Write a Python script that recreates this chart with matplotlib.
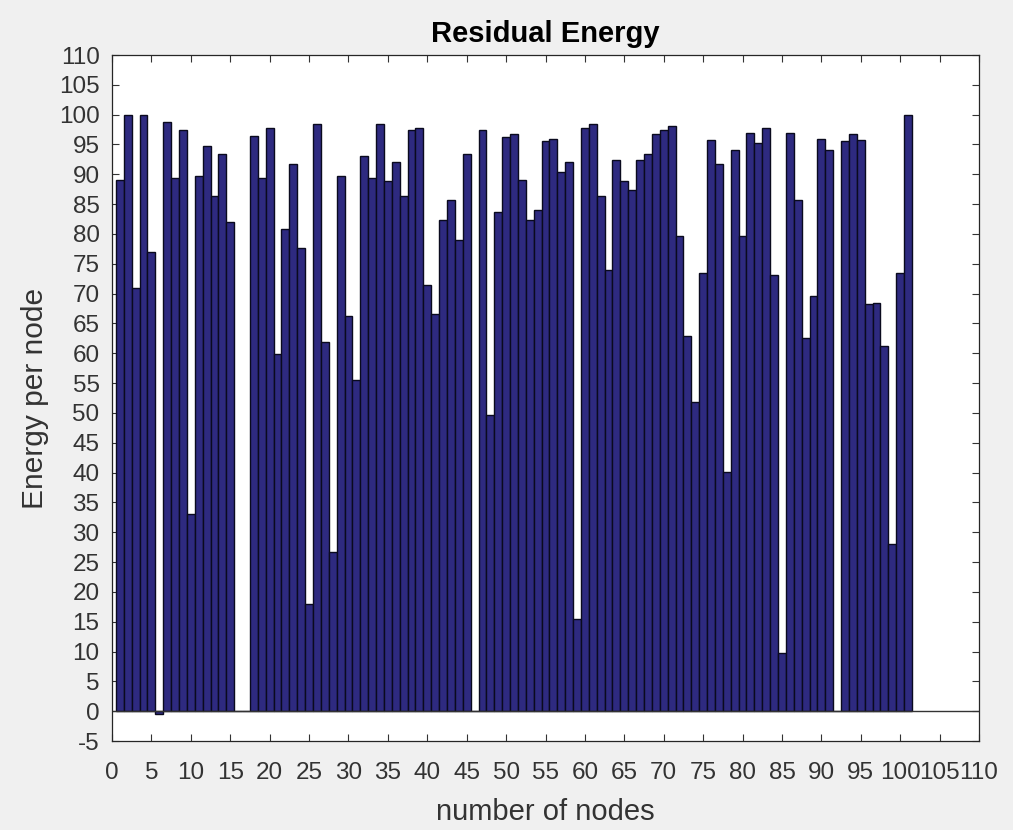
import matplotlib
matplotlib.use("Agg")
import matplotlib.pyplot as plt
import numpy as np

plt.rcParams['font.family'] = ['Liberation Sans', 'DejaVu Sans']

nodes = list(range(1, 102))
energy = [
    89.0, 100.0, 70.9, 100.0, 77.0, -0.5, 98.8, 89.4, 97.5, 33.0,
    89.7, 94.8, 86.4, 93.4, 82.0, 0.0, 0.0, 96.5, 89.4, 97.8,
    59.9, 80.9, 91.7, 77.7, 17.9, 98.4, 61.9, 26.7, 89.7, 66.2,
    55.5, 93.1, 89.4, 98.4, 88.8, 92.1, 86.4, 97.4, 97.8, 71.5,
    66.6, 82.3, 85.7, 79.0, 93.4, 0.0, 97.4, 49.6, 83.7, 96.2,
    96.7, 89.0, 82.3, 84.0, 95.5, 95.9, 90.4, 92.1, 15.5, 97.8,
    98.4, 86.4, 73.9, 92.4, 88.8, 87.4, 92.4, 93.4, 96.7, 97.4,
    98.1, 79.6, 62.9, 51.9, 73.5, 95.7, 91.7, 40.1, 94.1, 79.6,
    97.0, 95.3, 97.7, 73.2, 9.8, 97.0, 85.7, 62.5, 69.6, 96.0,
    94.1, 0.0, 95.5, 96.7, 95.7, 68.2, 68.5, 61.2, 28.0, 73.5,
    100.0,
]
xticks = list(range(0, 111, 5))
yticks = list(range(-5, 111, 5))

W, H = 1013, 830
fig = plt.figure(figsize=(W / 100, H / 100), dpi=100, facecolor='#f0f0f0')
ax = fig.add_axes([112 / W, 1 - 741 / H, (979 - 112) / W, (741 - 55) / H])
ax.set_facecolor('white')

ax.bar(nodes, energy, width=1.0, color='#2e2a80', edgecolor='#0a0a1e', linewidth=1.0, zorder=2)
ax.axhline(0, color='#333333', linewidth=1.0, zorder=3)

ax.set_xlim(0, 110)
ax.set_ylim(-5, 110)
ax.set_xticks(xticks)
ax.set_yticks(yticks)
ax.set_xticklabels([str(t) for t in xticks])
ax.set_yticklabels([str(t) for t in yticks])
ax.tick_params(direction='in', top=True, right=True, length=5, width=0.8,
               labelsize=17.5, colors='#333333')
ax.tick_params(axis='x', pad=15)
ax.tick_params(axis='y', pad=9)
for s in ax.spines.values():
    s.set_color('#262626')
    s.set_linewidth(0.9)
    s.set_zorder(4)

ax.set_title('Residual Energy', fontsize=21, fontweight='bold', pad=9, color='black')
ax.set_xlabel('number of nodes', fontsize=21, color='#333333', labelpad=10)
ax.set_ylabel('Energy per node', fontsize=21.5, color='#333333', labelpad=7)

fig.savefig('out.png', dpi=100, facecolor=fig.get_facecolor())
